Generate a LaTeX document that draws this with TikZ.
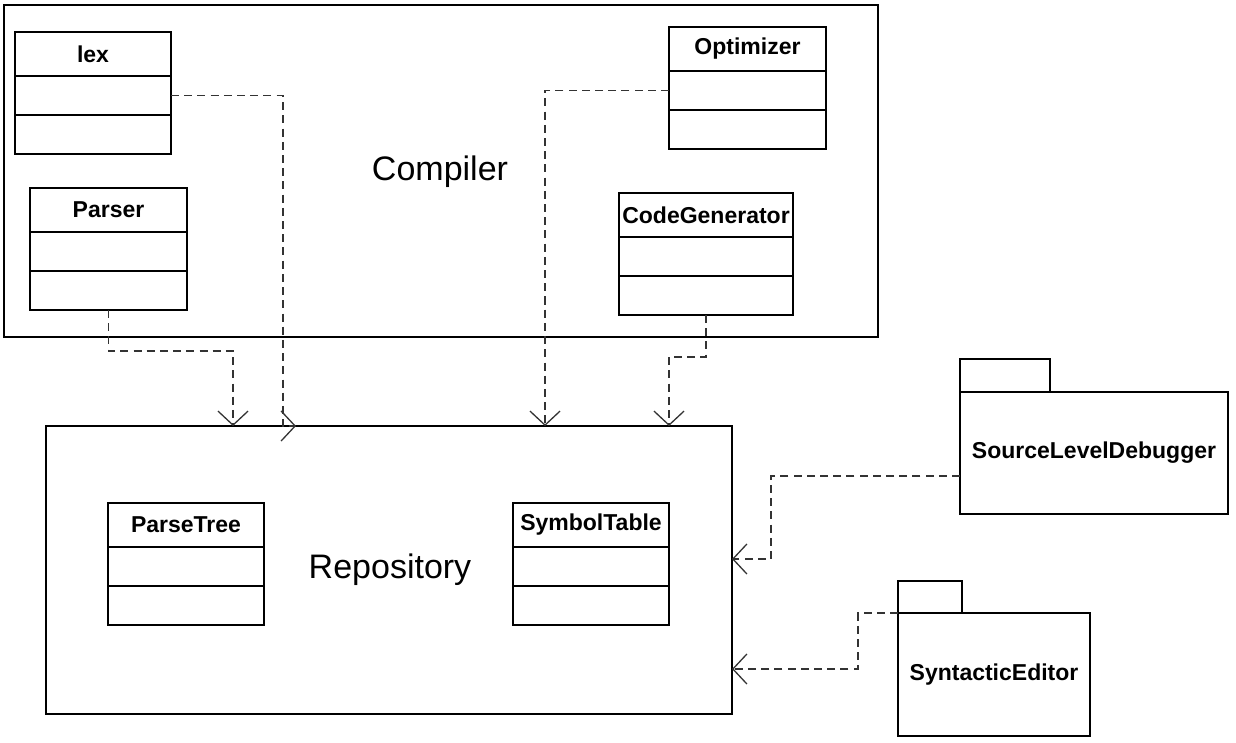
\documentclass[tikz,border=0pt]{standalone}
\usepackage{fontspec}
\setmainfont{Liberation Sans}
\usetikzlibrary{positioning}
\usetikzlibrary{arrows.meta}

% one class box: header with the name, then two empty compartments
\newcommand{\umlclass}[5]{%
    \node[classhead, minimum width=#5, anchor=north west] (#1) at (#3,#4) {#2};
    \node[classpart, minimum width=#5, below=0pt of #1] (#1-attr) {};
    \node[classpart, minimum width=#5, below=0pt of #1-attr] (#1-ops) {};
}

\begin{document}
\begin{tikzpicture}
            [x=0.5pt, y=-0.5pt,
            border/.style={draw, line width=1.1pt, outer sep=0pt},
            classhead/.style={border, inner sep=0pt, minimum height=22pt,
                font=\fontsize{11.5}{13}\selectfont\bfseries},
            classpart/.style={border, inner sep=0pt, minimum height=19.5pt},
            container/.style={border, inner sep=0pt, anchor=north west,
                font=\fontsize{17}{20}\selectfont},
            pkgbody/.style={border, inner sep=0pt, anchor=north west,
                font=\fontsize{11.5}{13}\selectfont\bfseries},
            pkgtab/.style={border, inner sep=0pt, anchor=south west},
            dep/.style={line width=0.65pt, black!80, dash pattern=on 4pt off 2.6pt,
                -{Straight Barb[length=7pt, width=15pt, line width=0.65pt]}},
            ]
            \useasboundingbox (0,0) rectangle (1236,743);

            % the two big packages
            \node[container, minimum width=437pt, minimum height=166pt] (compiler) at (4,5) {};
            \node at (440,172) {\fontsize{17}{20}\selectfont Compiler};
            \node[container, minimum width=343pt, minimum height=144pt] (repo) at (46,426) {};
            \node at (390,570) {\fontsize{17}{20}\selectfont Repository};

            % classes
            \umlclass{lex}{lex}{15}{32}{78pt}
            \umlclass{parser}{Parser}{30}{188}{78.5pt}
            \umlclass{optimizer}{Optimizer}{669}{27}{78.5pt}
            \umlclass{codegen}{CodeGenerator}{619}{193}{87pt}
            \umlclass{parsetree}{ParseTree}{108}{503}{78pt}
            \umlclass{symtab}{SymbolTable}{513}{503}{78pt}

            % outside packages
            \node[pkgbody, minimum width=134pt, minimum height=61pt] (debugger) at (960,392) {SourceLevelDebugger};
            \node[pkgtab, minimum width=45pt, minimum height=16.5pt] (debugger-tab) at (debugger.north west) {};
            \node[pkgbody, minimum width=96pt, minimum height=61.5pt] (editor) at (898,613) {SyntacticEditor};
            \node[pkgtab, minimum width=32pt, minimum height=16pt] (editor-tab) at (editor.north west) {};

            % ends on the repository border
            \coordinate (lexin) at (283,426);
            \coordinate (parserin) at (233,426);
            \coordinate (optin) at (545,426);
            \coordinate (codegenin) at (669,426);
            \coordinate (debuggerin) at (732,559);
            \coordinate (editorin) at (732,669);

            \draw[dep] (lex-attr.east) -| (lexin) -- ++(13,0);
            \draw[dep] (parser-ops.south) -- ++(0,41) -| (parserin);
            \draw[dep] (optimizer-attr.west) -| (optin);
            \draw[dep] (codegen-ops.south) -- ++(0,42) -| (codegenin);
            \draw[dep] ([yshift=-11.5pt]debugger.west) -- ++(-189,0) |- (debuggerin);
            \draw[dep] (editor.north west) -- ++(-40,0) |- (editorin);
        \end{tikzpicture}
\end{document}
